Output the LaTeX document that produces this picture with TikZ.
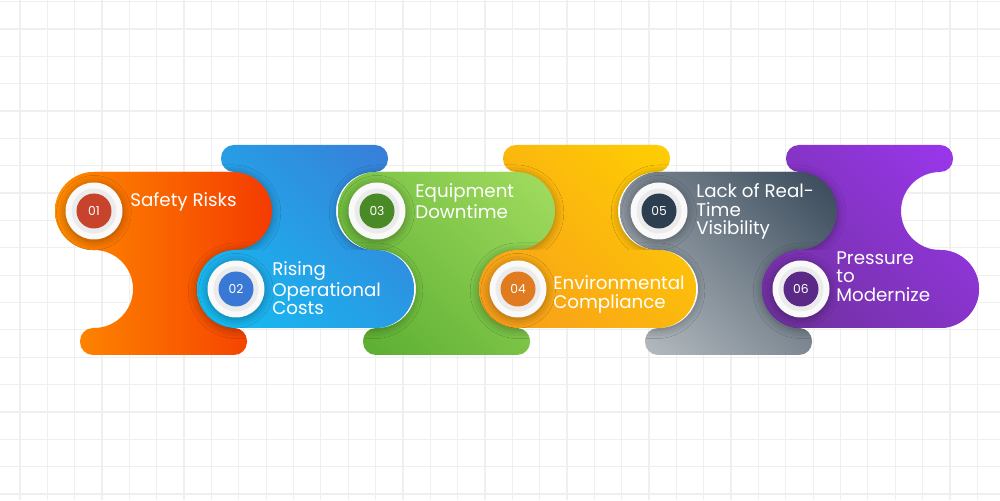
\documentclass[tikz,border=0pt]{standalone}
\usepackage{fontspec}
\setmainfont{Poppins}
\usetikzlibrary{shadings,shadows.blur}

\definecolor{gridgray}{HTML}{EFEFEF}
\definecolor{orA}{HTML}{FF8C00}\definecolor{orB}{HTML}{F43B00}
\definecolor{blA}{HTML}{10C6F6}\definecolor{blB}{HTML}{3B79D6}
\definecolor{grA}{HTML}{56AB2F}\definecolor{grB}{HTML}{A8E063}
\definecolor{ylA}{HTML}{F7971E}\definecolor{ylB}{HTML}{FFD200}
\definecolor{gyA}{HTML}{BDC3C7}\definecolor{gyB}{HTML}{2C3E50}
\definecolor{puA}{HTML}{6A3093}\definecolor{puB}{HTML}{9D37F2}
\colorlet{blM}{blA!50!blB}\colorlet{grM}{grA!50!grB}\colorlet{ylM}{ylA!50!ylB}
\colorlet{gyM}{gyA!50!gyB}\colorlet{puM}{puA!50!puB}
\definecolor{dotA}{HTML}{C8432B}\definecolor{dotB}{HTML}{3A78D5}
\definecolor{dotC}{HTML}{4A8A26}\definecolor{dotD}{HTML}{E07B1F}
\definecolor{dotE}{HTML}{2C3E50}\definecolor{dotF}{HTML}{5B2A86}

\tikzset{
  % piece with the stadium on top, bar at the bottom, notch on the left
  oddbody/.style={insert path={(#1+39,328) -- (#1+178,328)
      arc[start angle=90,end angle=-90,radius=39] -- (#1+179,250) -- (#1+179,172)
      arc[start angle=90,end angle=0,radius=13] -- (#1+192,158)
      arc[start angle=0,end angle=-90,radius=13] -- (#1+38,145)
      arc[start angle=-90,end angle=-180,radius=13] -- (#1+25,159)
      arc[start angle=180,end angle=90,radius=13] -- (#1+39,172)
      arc[start angle=-90,end angle=90,radius=39]
      arc[start angle=-90,end angle=-270,radius=39] -- cycle}},
  % piece with the bar on top, stadium at the bottom, notch on the right
  evenbody/.style={insert path={(#1+39,172) -- (#1+178,172)
      arc[start angle=-90,end angle=90,radius=39]
      arc[start angle=-90,end angle=-270,radius=39]
      arc[start angle=-90,end angle=0,radius=13] -- (#1+191,342)
      arc[start angle=0,end angle=90,radius=13] -- (#1+37,355)
      arc[start angle=90,end angle=180,radius=13] -- (#1+24,341)
      arc[start angle=180,end angle=270,radius=13] -- (#1+37,250) -- (#1+39,250)
      arc[start angle=90,end angle=270,radius=39] -- cycle}},
  oddtop/.style={insert path={(#1+39,250) -- (#1+178,250)
      arc[start angle=-90,end angle=90,radius=39] -- (#1+39,328)
      arc[start angle=90,end angle=270,radius=39] -- cycle}},
  evenlow/.style={insert path={(#1+39,172) -- (#1+178,172)
      arc[start angle=-90,end angle=90,radius=39] -- (#1+39,250)
      arc[start angle=90,end angle=270,radius=39] -- cycle}},
  softshadow/.style={blur shadow={shadow xshift=0pt, shadow yshift=-1pt,
      shadow blur radius=5pt, shadow opacity=35}},
  numdot/.style={circle, minimum size=0.7cm, inner sep=0pt, text=white,
      font=\fontsize{7}{7}\selectfont},
  lbl/.style={anchor=north west, inner sep=0pt, align=left, text=white,
      font=\fontsize{10.4}{10.4}\selectfont},
}
\newcommand\pieceshade[5]{\shade[lower left=#2, upper left=#3, lower right=#4,
  upper right=#5] (#1,145) rectangle (#1+217,355);}
% left edge / colours (ll, ul, lr, ur) / the two neighbours that take the shadow
\def\oddlist{55/orA/orA/orB/orB/197/197, 338/grA/grM/grM/grB/197/479,
  620/gyA/gyM/gyM/gyB/479/762}
\def\evenlist{197/blA/blM/blM/blB/55/338, 479/ylA/ylM/ylM/ylB/338/620,
  762/puA/puM/puM/puB/620/620}

\begin{document}
\begin{tikzpicture}[x=0.02cm,y=0.02cm]
\useasboundingbox (0,0) rectangle (1000,500);
\fill[white] (0,0) rectangle (1000,500);
% grid
\foreach \k in {0,...,35} \draw[gridgray, line width=0.7pt] (20+27.35*\k,0) -- (20+27.35*\k,500);
\foreach \k in {-1,...,17} \draw[gridgray, line width=0.7pt] (0,471-27.35*\k) -- (1000,471-27.35*\k);

% bodies
\foreach \L/\cA/\cB/\cC/\cD/\Na/\Nb in \oddlist {
  \begin{scope}
    \clip[oddbody=\L];
    \pieceshade{\L}{\cA}{\cB}{\cC}{\cD}
  \end{scope}
}
\foreach \L/\cA/\cB/\cC/\cD/\Na/\Nb in \evenlist {
  \begin{scope}
    \clip[evenbody=\L];
    \pieceshade{\L}{\cA}{\cB}{\cC}{\cD}
  \end{scope}
}

% stadiums on top, shadow only on the neighbours
\foreach \L/\cA/\cB/\cC/\cD/\Na/\Nb in \oddlist {
  \begin{scope}
    \clip[evenbody=\Na, evenbody=\Nb];
    \path[softshadow, oddtop=\L];
  \end{scope}
  \begin{scope}
    \clip[oddtop=\L];
    \pieceshade{\L}{\cA}{\cB}{\cC}{\cD}
  \end{scope}
}
\foreach \L/\cA/\cB/\cC/\cD/\Na/\Nb in \evenlist {
  \begin{scope}
    \clip[oddbody=\Na, oddbody=\Nb];
    \path[softshadow, evenlow=\L];
  \end{scope}
  \begin{scope}
    \clip[evenlow=\L];
    \pieceshade{\L}{\cA}{\cB}{\cC}{\cD}
  \end{scope}
}

% number badges
\foreach \x/\y/\col/\n [count=\i] in {94/289/dotA/01, 236/211/dotB/02, 377/289/dotC/03,
    518/211/dotD/04, 659/289/dotE/05, 801/211/dotF/06} {
  \fill[gray!5, softshadow] (\x,\y) circle (28.5);
  \fill[gray!16] (\x,\y) circle (22.5);
  \node[numdot, fill=\col] (n\i) at (\x,\y) {\n};
}

% labels
\node[lbl] (t1) at (130,307.5) {Safety Risks};
\node[lbl] (t2) at (272,238.5) {Rising\\Operational\\Costs};
\node[lbl] (t3) at (415,316.5) {Equipment\\Downtime};
\node[lbl] (t4) at (553,224.5) {Environmental\\Compliance};
\node[lbl] (t5) at (696,316.5) {Lack of Real-\\Time\\Visibility};
\node[lbl] (t6) at (836,248.5) {Pressure\\to\\Modernize};
\end{tikzpicture}
\end{document}
